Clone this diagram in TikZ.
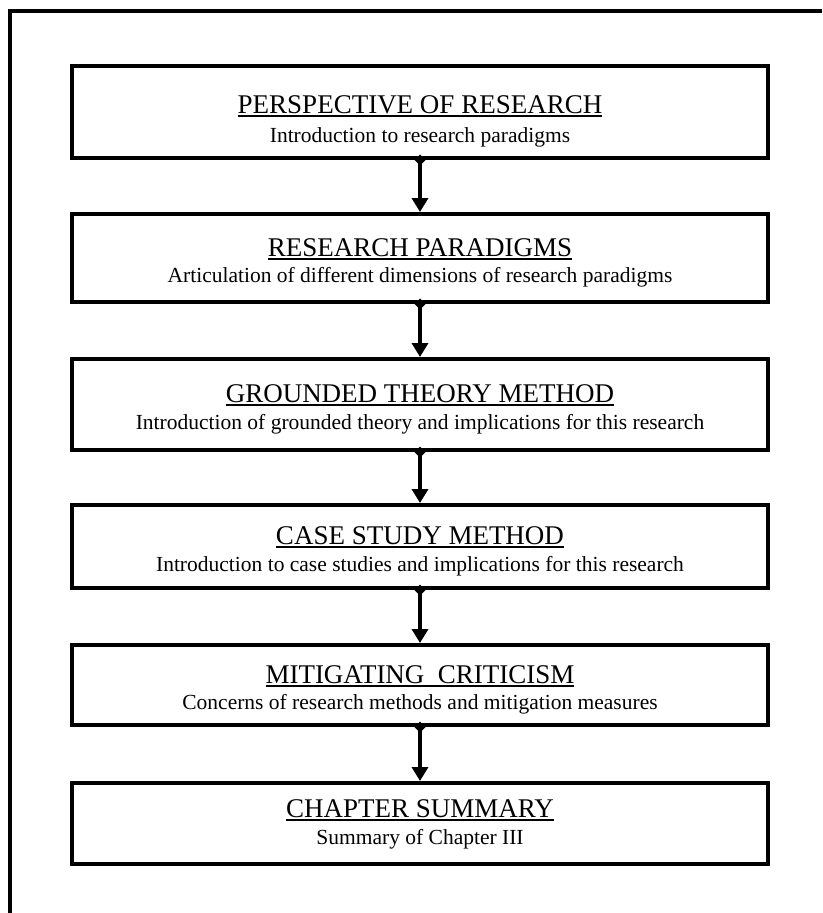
\documentclass[tikz,border=0pt]{standalone}
\usepackage{fontspec}
\setmainfont{Liberation Serif}
\usetikzlibrary{arrows.meta}
% underline drawn as a rule just below the baseline
\newcommand\ulin[1]{\setbox0\hbox{#1}\leavevmode\rlap{\rule[-3.5pt]{\wd0}{1.3pt}}\box0}
\begin{document}
\begin{tikzpicture}[x=1pt,y=-1pt,
  stage/.style={draw, line width=4pt, minimum width=696pt, inner sep=0pt},
  ttl/.style={anchor=base, inner sep=0pt, font=\fontsize{27}{27}\selectfont},
  sub/.style={anchor=base, inner sep=0pt, font=\fontsize{21.5}{21.5}\selectfont},
  flow/.style={line width=4pt, shorten <=-5.5pt,
    {Diamond[length=11pt,width=11pt]}-{Triangle[length=14pt,width=16pt]}}]
\useasboundingbox (0,0) rectangle (822,913);
% frame
\draw[line width=4pt] (10,913) -- (10,11) -- (822,11);

% stages
\node[stage, minimum height=92pt] (s1) at (420,112) {};
\node[stage, minimum height=88pt] (s2) at (420,258) {};
\node[stage, minimum height=91pt] (s3) at (420,404.5) {};
\node[stage, minimum height=83pt] (s4) at (420,546.5) {};
\node[stage, minimum height=80pt] (s5) at (420,685) {};
\node[stage, minimum height=81pt] (s6) at (420,823.5) {};

\node[ttl] (t1) at (420,113) {\ulin{PERSPECTIVE OF RESEARCH}};
\node[sub] (u1) at (420,142) {Introduction to research paradigms};
\node[ttl] (t2) at (420,256) {\ulin{RESEARCH PARADIGMS}};
\node[sub] (u2) at (420,282) {Articulation of different dimensions of research paradigms};
\node[ttl] (t3) at (420,402) {\ulin{GROUNDED THEORY METHOD}};
\node[sub] (u3) at (420,429) {Introduction of grounded theory and implications for this research};
\node[ttl] (t4) at (420,544) {\ulin{CASE STUDY METHOD}};
\node[sub] (u4) at (420,571) {Introduction to case studies and implications for this research};
\node[ttl] (t5) at (420,683) {\ulin{MITIGATING\ \ CRITICISM}};
\node[sub] (u5) at (420,709) {Concerns of research methods and mitigation measures};
\node[ttl] (t6) at (420,817) {\ulin{CHAPTER SUMMARY}};
\node[sub] (u6) at (420,844) {Summary of Chapter III};

% connectors
\draw[flow] (s1.south) -- (s2.north);
\draw[flow] (s2.south) -- (s3.north);
\draw[flow] (s3.south) -- (s4.north);
\draw[flow] (s4.south) -- (s5.north);
\draw[flow] (s5.south) -- (s6.north);
\end{tikzpicture}
\end{document}
